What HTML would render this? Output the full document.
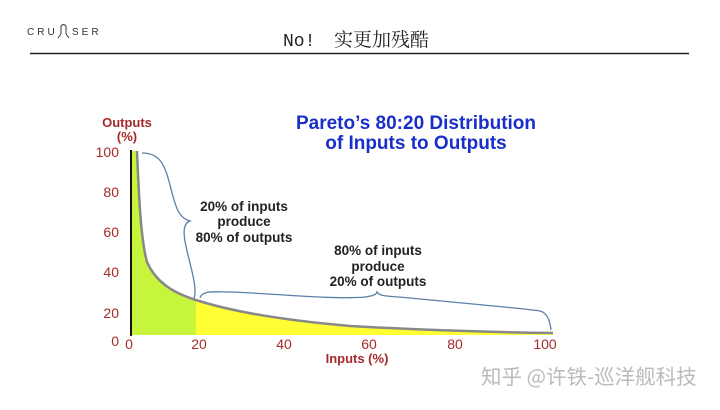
<!DOCTYPE html>
<html><head><meta charset="utf-8"><style>
body{margin:0;width:720px;height:405px;background:#fff;overflow:hidden;font-family:"Liberation Sans","Noto Sans CJK SC",sans-serif}
</style></head><body>
<svg width="720" height="405" viewBox="0 0 720 405" xmlns="http://www.w3.org/2000/svg">
<text x="27" y="35" font-family="Liberation Sans,sans-serif" font-size="10" letter-spacing="3" fill="#333">CRU</text>
<path d="M61 26 L61 34 M66 26 L66 34 M61 26 Q63.5 23 66 26 M61 34 L58 38 M66 34 L69 38" stroke="#333" stroke-width="1" fill="none"/>
<text x="72" y="35" font-family="Liberation Sans,sans-serif" font-size="10" letter-spacing="3" fill="#333">SER</text>
<text x="283" y="46" font-family="Liberation Mono,'Noto Serif CJK SC',serif" font-size="18" fill="#222">No!</text>
<text x="334" y="46" font-family="'Noto Serif CJK SC',serif" font-size="19" fill="#222">实更加残酷</text>
<line x1="30" y1="53.5" x2="689" y2="53.5" stroke="#222" stroke-width="1.5"/>
<text x="416" y="129" text-anchor="middle" font-weight="bold" font-size="19" fill="#1a2fc8">Pareto’s 80:20 Distribution</text>
<text x="416" y="149" text-anchor="middle" font-weight="bold" font-size="19" fill="#1a2fc8">of Inputs to Outputs</text>
<g font-weight="bold" font-size="13" fill="#a52a2a" text-anchor="middle">
<text x="127" y="127">Outputs</text><text x="127" y="141">(%)</text>
<text x="357" y="363">Inputs (%)</text>
</g>
<g font-size="14" fill="#a52a2a" text-anchor="end">
<text x="119" y="157">100</text><text x="119" y="197">80</text><text x="119" y="237">60</text>
<text x="119" y="277">40</text><text x="119" y="318">20</text><text x="119" y="346">0</text>
</g>
<g font-size="14" fill="#a52a2a" text-anchor="middle">
<text x="129" y="349">0</text><text x="199" y="349">20</text><text x="284" y="349">40</text>
<text x="369" y="349">60</text><text x="455" y="349">80</text><text x="545" y="349">100</text>
</g>
<path d="M131 335 L131 151 L137 151 C139 200 141 240 147 262 C155 280 170 292 196 300 L196 335 Z" fill="#c6f53c"/>
<path d="M196 300 C230 311 280 320 350 326 C420 330 480 332 553 333 L553 335 L196 335 Z" fill="#ffff33"/>
<path d="M137 151 C139 200 141 240 147 262 C155 280 170 292 196 300 C230 311 280 320 350 326 C420 330 480 332 553 333" stroke="#888" stroke-width="2.5" fill="none"/>
<line x1="131" y1="150" x2="131" y2="336" stroke="#111" stroke-width="2"/>
<path d="M142 153 C160 153 165 165 170 185 C175 205 178 218 190 221 C182 224 183 235 188 255 C193 275 197 290 194 298" stroke="#5b7fa8" stroke-width="1.3" fill="none"/>
<path d="M200 298 C202 290 215 292 230 292 C270 293 330 300 365 297 C372 296 376 295 377 292 C380 297 390 296 410 298 C450 302 520 308 540 311 C548 313 550 322 551 330" stroke="#5b7fa8" stroke-width="1.3" fill="none"/>
<g font-weight="bold" font-size="13.5" fill="#222" text-anchor="middle">
<text x="244" y="211">20% of inputs</text><text x="244" y="226">produce</text><text x="244" y="242">80% of outputs</text>
<text x="378" y="255">80% of inputs</text><text x="378" y="271">produce</text><text x="378" y="286">20% of outputs</text>
</g>
<text x="481" y="384" font-family="'Noto Sans CJK SC',sans-serif" font-size="20.5" fill="#bbb">知乎 @许铁-巡洋舰科技</text>
</svg>
</body></html>
